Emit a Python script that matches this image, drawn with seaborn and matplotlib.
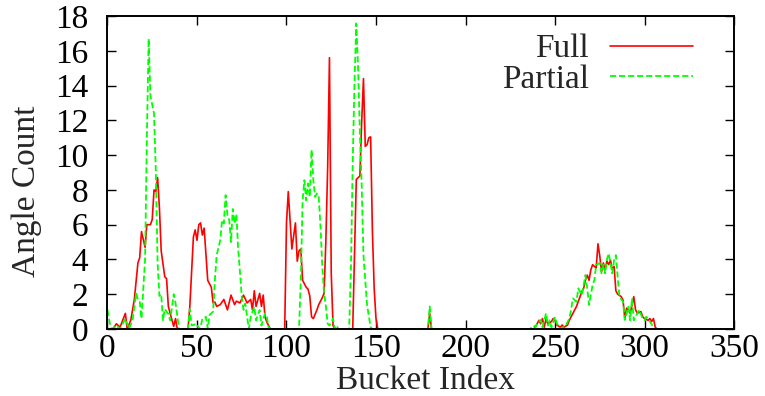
import numpy as np
import matplotlib
matplotlib.use('Agg')
import matplotlib.pyplot as plt
import pandas as pd
import seaborn as sns

# Full series: bucket index -> angle count
full_bucket = [0, 3, 5, 7, 10, 11, 13, 15, 17, 18, 19, 21, 22, 24, 25, 26, 27, 28, 29, 30,
               32, 33, 34, 35, 37, 38, 39, 45, 46, 48, 49, 50, 51, 52, 53, 54, 56, 58, 59, 60,
               61, 63, 65, 67, 69, 71, 72, 74, 76, 78, 80, 81, 82, 83, 85, 86, 87, 88, 89, 91,
               99, 100, 101, 103, 105, 106, 107, 108, 109, 111, 112, 113, 114, 115, 117, 118, 120, 121, 122, 123,
               124, 125, 126, 127, 137, 139, 141, 142, 143, 144, 145, 146, 147, 148, 149, 150, 151, 179, 180, 181,
               238, 239, 241, 242, 243, 244, 245, 246, 248, 249, 250, 251, 253, 254, 255, 257, 258, 260, 261, 262,
               264, 265, 266, 267, 268, 269, 270, 271, 273, 274, 275, 276, 277, 278, 279, 280, 281, 282, 283, 284,
               285, 287, 288, 289, 290, 291, 292, 294, 295, 296, 298, 299, 300, 302, 303, 304, 305, 306, 307, 310]
full_count = [0, 0, 0.3, 0.1, 0.9, 0, 0.5, 1.7, 3.8, 4.1, 5.6, 4.7, 6.0, 6.0, 6.3, 8.0, 7.9, 8.7, 7.0, 4.5,
              3.0, 2.9, 1.3, 0.9, 0.15, 0.6, 0, 0, 1.3, 5.3, 5.7, 5.1, 6.0, 6.1, 5.4, 5.8, 2.8, 2.4, 1.5, 1.55,
              1.3, 1.4, 1.7, 1.1, 1.95, 1.4, 1.6, 1.5, 1.95, 1.5, 1.7, 1.1, 2.2, 1.3, 2.05, 1.3, 1.95, 0.7, 0.4, 0,
              0, 6.1, 7.9, 4.6, 6.1, 3.9, 4.5, 4.6, 2.8, 2.4, 2.3, 1.9, 0.7, 0.6, 1.1, 1.4, 1.8, 2.05, 5.1, 9.3,
              15.6, 3.2, 0.2, 0, 0, 8.6, 8.8, 11.9, 14.4, 10.5, 10.6, 11.0, 11.05, 5.6, 2.3, 0.6, 0, 0, 0.9, 0,
              0, 0.1, 0.5, 0.3, 0.6, 0.1, 0.6, 0.3, 0.43, 0.6, 0.5, 0.23, 0.1, 0.23, 0.1, 0.23, 0.5, 0.9, 1.1, 1.3,
              1.86, 2.15, 2.34, 2.8, 3.1, 2.8, 3.4, 3.7, 3.5, 4.9, 4.2, 3.3, 3.8, 3.4, 3.9, 3.7, 3.96, 3.4, 3.6, 2.2,
              2.0, 1.86, 1.66, 0.6, 1.2, 1.1, 0.9, 1.86, 1.1, 0.9, 1.0, 0.7, 0.6, 0.5, 0.6, 0.43, 0.6, 0.1, 0, 0]

# Partial series
partial_bucket = [0, 1, 2, 4, 5, 7, 10, 12, 14, 16, 17, 18, 19, 21, 22, 23, 24, 26, 27, 28,
                  29, 30, 31, 32, 34, 35, 37, 38, 40, 45, 46, 47, 50, 51, 52, 53, 55, 56, 57, 59,
                  60, 61, 63, 64, 65, 66, 67, 68, 69, 70, 71, 72, 73, 74, 75, 76, 77, 78, 79, 80,
                  82, 83, 85, 86, 88, 89, 90, 91, 107, 108, 109, 110, 111, 112, 113, 114, 115, 116, 117, 118,
                  119, 120, 121, 122, 123, 124, 125, 126, 127, 128, 129, 135, 136, 137, 138, 139, 140, 141, 142, 143,
                  145, 147, 148, 179, 180, 181, 236, 238, 239, 240, 242, 243, 245, 246, 247, 248, 250, 251, 253, 256,
                  258, 259, 260, 262, 263, 265, 266, 267, 268, 269, 271, 272, 273, 275, 276, 277, 278, 279, 280, 281,
                  282, 283, 284, 285, 286, 288, 289, 291, 292, 293, 294, 296, 297, 299, 300, 301, 303, 305, 306, 310]
partial_count = [1.1, 0.5, 0, 0.1, 0.2, 0, 0.6, 0, 0.5, 2.05, 1.7, 1.6, 0.6, 4.0, 11.0, 16.7, 13.4, 12.4, 9.1, 3.8,
                 1.9, 2.0, 0.5, 1.15, 0.86, 0.5, 2.0, 1.5, 0, 0, 1.15, 0.2, 0.3, 0, 0.1, 0.6, 0.7, 0, 0.8, 1.0,
                 2.8, 4.25, 5.1, 6.26, 6.07, 7.7, 6.55, 6.26, 5.0, 6.9, 6.07, 6.6, 4.6, 3.3, 1.86, 1.1, 1.47, 0.7, 0, 0.7,
                 1.28, 0.5, 1.09, 0.2, 0.9, 0.7, 0.1, 0, 0, 2.8, 7.4, 8.56, 7.4, 8.37, 7.6, 10.3, 8.56, 7.6, 7.8, 7.6,
                 5.9, 3.6, 2.05, 1.3, 0.3, 0.2, 0.4, 0.6, 0, 0.2, 0, 0, 3.5, 9.6, 14.2, 17.57, 15.0, 11.3, 8.3, 4.25,
                 1.38, 0.1, 0, 0, 1.3, 0, 0, 0.2, 0.1, 0.3, 0.52, 0.1, 0.9, 0.2, 0.5, 0.1, 0.7, 0.33, 0, 0.2,
                 0.6, 1.1, 1.76, 1.57, 2.34, 1.95, 2.53, 3.1, 2.34, 1.38, 2.53, 2.82, 3.68, 3.8, 3.2, 3.7, 3.2, 4.0, 4.35, 3.77,
                 3.2, 3.96, 4.25, 3.0, 1.86, 1.57, 0.52, 1.28, 0.5, 1.76, 0.5, 0.9, 1.1, 0.6, 0.5, 0.7, 0.43, 0.1, 0, 0]

x_ticks = [0, 50, 100, 150, 200, 250, 300, 350]
y_ticks = [0, 2, 4, 6, 8, 10, 12, 14, 16, 18]

sns.set_style('ticks')
plt.rcParams['font.family'] = ['Liberation Serif', 'DejaVu Serif']
plt.rcParams['font.size'] = 24
plt.rcParams['axes.linewidth'] = 1.4

fig = plt.figure(figsize=(7.65, 3.96), dpi=100)
ax = fig.add_axes([0.1405, 0.1692, 0.819, 0.7904])

full = pd.DataFrame({'bucket': full_bucket, 'count': full_count})
partial = pd.DataFrame({'bucket': partial_bucket, 'count': partial_count})

sns.lineplot(data=full, x='bucket', y='count', color='#ff0000', lw=1.2,
             label='Full', estimator=None, ax=ax)
sns.lineplot(data=partial, x='bucket', y='count', color='#00ff00', lw=1.3,
             linestyle=(0, (3.4, 1.6)), label='Partial', estimator=None, ax=ax)

ax.set_xlim(0, 350)
ax.set_ylim(0, 18)
ax.set_xticks(x_ticks)
ax.set_yticks(y_ticks)
ax.tick_params(direction='in', top=True, right=True, length=6.5, width=1,
               labelsize=24, colors='black')
ax.tick_params(axis='x', pad=3)
ax.tick_params(axis='y', pad=14)
for s in ax.spines.values():
    s.set_color('black')

ax.set_xlabel('Bucket Index', fontsize=24)
ax.set_ylabel('Angle Count', fontsize=24)
ax.xaxis.set_label_coords(0.507, -0.116)
ax.yaxis.set_label_coords(-0.1045, 0.439)

ax.legend(loc='upper right', bbox_to_anchor=(0.935, 0.943), frameon=False,
          markerfirst=False, handlelength=2.5, handletextpad=0.63,
          labelspacing=0.0, borderpad=0, borderaxespad=0, fontsize=24)

fig.savefig('out.png', dpi=100)
